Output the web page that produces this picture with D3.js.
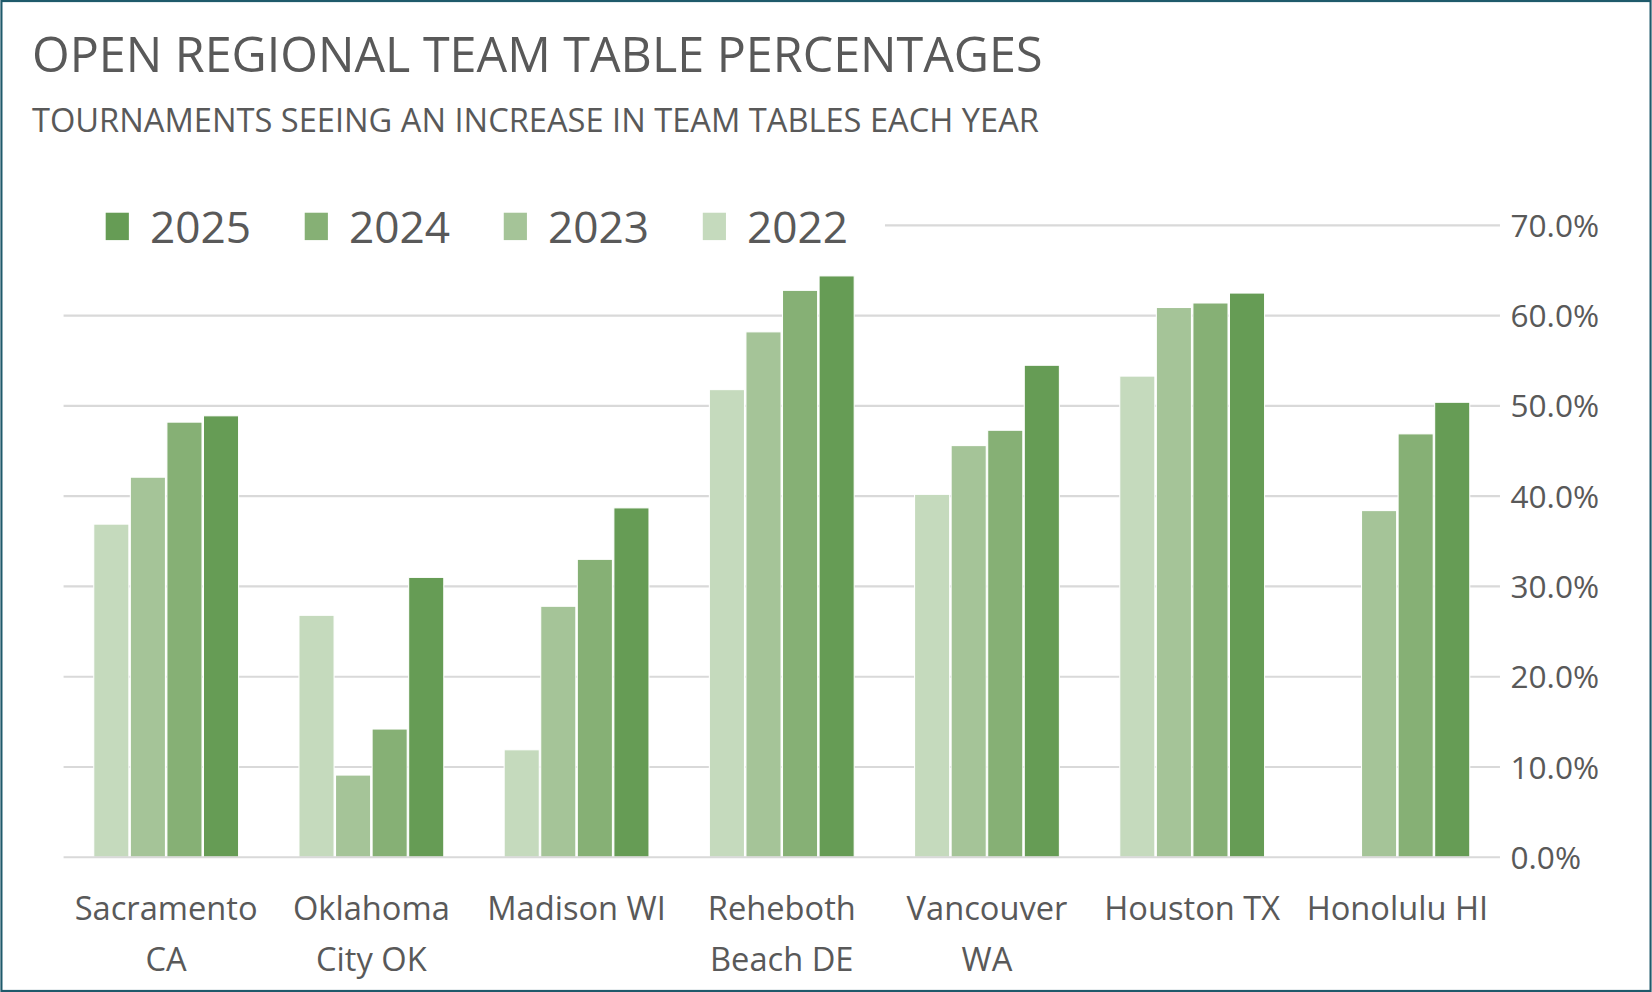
<!DOCTYPE html>
<html><head><meta charset="utf-8">
<script src="https://cdn.jsdelivr.net/npm/d3@7"></script>
<style>body{margin:0;background:#fff}svg{display:block}</style></head>
<body><svg id="c" width="1652" height="992" viewBox="0 0 1568 942"></svg>
<script>
const categories=[["Sacramento","CA"],["Oklahoma","City OK"],["Madison WI"],["Reheboth","Beach DE"],["Vancouver","WA"],["Houston TX"],["Honolulu HI"]];
const years=["2022","2023","2024","2025"];
const v2022=[36.9,26.8,11.9,51.8,40.2,53.3,null];
const v2023=[42.1,9.1,27.8,58.2,45.6,60.9,38.4];
const v2024=[48.2,14.2,33.0,62.8,47.3,61.4,46.9];
const v2025=[48.9,31.0,38.7,64.4,54.5,62.5,50.4];
const ticks=[0,10,20,30,40,50,60,70];
const colors={"2022":"#c5dabd","2023":"#a5c498","2024":"#86b075","2025":"#669c55"};
const series={"2022":v2022,"2023":v2023,"2024":v2024,"2025":v2025};
const svg=d3.select("#c");
const font="'Open Sans', sans-serif";
svg.append("rect").attr("x",1).attr("y",1).attr("width",1566).attr("height",940).attr("fill","#fff").attr("stroke","#1f5a6b").attr("stroke-width",2);
svg.append("text").attr("x",30).attr("y",68).attr("font-family",font).attr("font-size",46).attr("fill","#595959").text("OPEN REGIONAL TEAM TABLE PERCENTAGES");
svg.append("text").attr("x",30).attr("y",125).attr("font-family",font).attr("font-size",31).attr("fill","#595959").text("TOURNAMENTS SEEING AN INCREASE IN TEAM TABLES EACH YEAR");
const L=60,R=1424;
const y=d3.scaleLinear().domain([0,70]).range([814,214]);
const x0=d3.scaleBand().domain(d3.range(categories.length)).range([L,R]).paddingInner(0.28).paddingOuter(0.14);
const x1=d3.scaleBand().domain(years).range([0,x0.bandwidth()]).padding(0.04);
ticks.forEach(t=>{
  if(t>0) svg.append("line").attr("x1",t===70?840:L).attr("x2",R).attr("y1",y(t)).attr("y2",y(t)).attr("stroke","#d9d9d9").attr("stroke-width",2);
  svg.append("text").attr("x",1434).attr("y",y(t)+11).attr("font-family",font).attr("font-size",30).attr("fill","#595959").text(t.toFixed(1)+"%");
});
years.forEach(yr=>{
  svg.append("g").selectAll("rect").data(series[yr].map((v,i)=>({v,i})).filter(d=>d.v!=null)).join("rect")
   .attr("x",d=>x0(d.i)+x1(yr)).attr("width",x1.bandwidth()).attr("y",d=>y(d.v)).attr("height",d=>y(0)-y(d.v))
   .attr("fill",colors[yr]).attr("stroke","#fff").attr("stroke-width",1);
});
svg.append("line").attr("x1",L).attr("x2",R).attr("y1",814).attr("y2",814).attr("stroke","#d9d9d9").attr("stroke-width",2);
categories.forEach((c,i)=>{
  const t=svg.append("text").attr("text-anchor","middle").attr("font-family",font).attr("font-size",31).attr("fill","#595959");
  c.forEach((line,j)=>t.append("tspan").attr("x",x0(i)+x0.bandwidth()/2).attr("y",874+j*48).text(line));
});
const legend=["2025","2024","2023","2022"];
legend.forEach((yr,i)=>{
  const lx=100+i*189;
  svg.append("rect").attr("x",lx).attr("y",202).attr("width",22).attr("height",26).attr("fill",colors[yr]);
  svg.append("text").attr("x",lx+42).attr("y",231).attr("font-family",font).attr("font-size",42).attr("fill","#595959").text(yr);
});
</script></body></html>
